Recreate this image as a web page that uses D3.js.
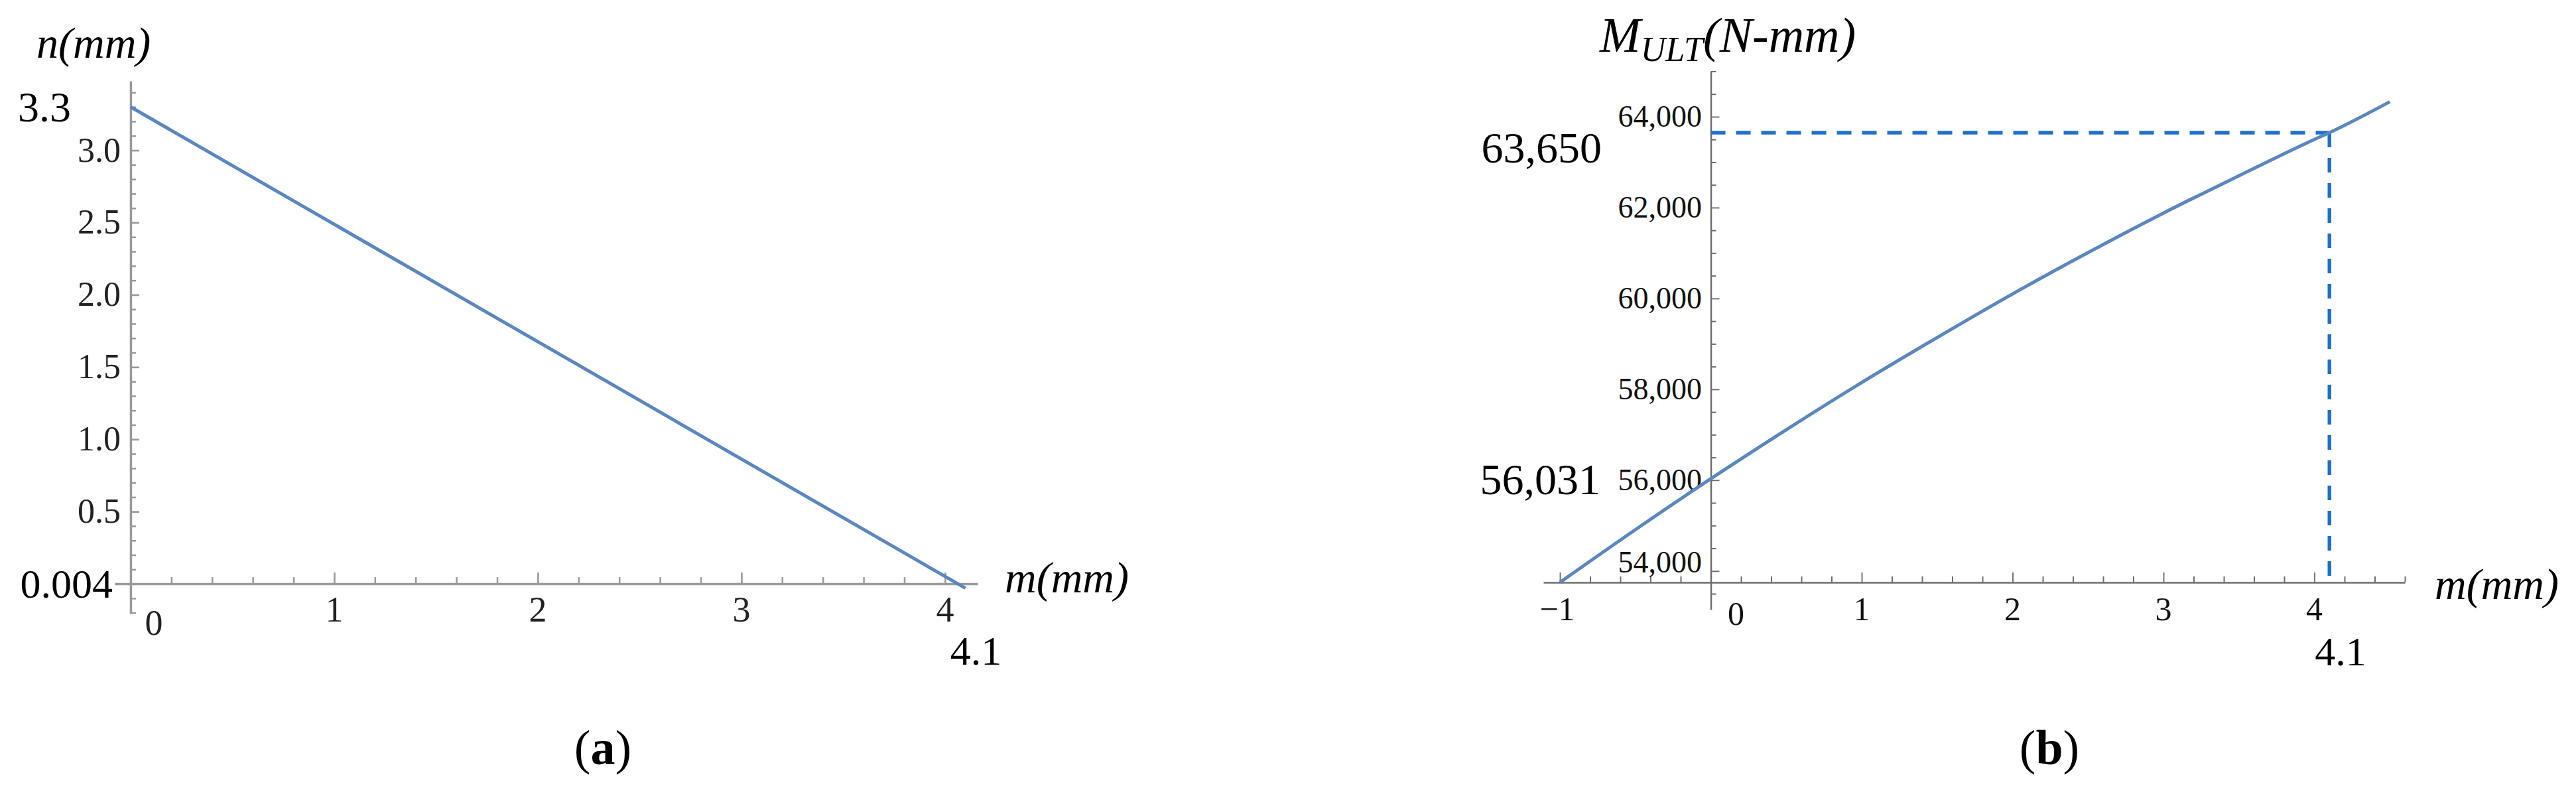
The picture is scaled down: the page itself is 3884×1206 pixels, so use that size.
<!DOCTYPE html>
<html>
<head>
<meta charset="utf-8">
<script src="https://cdn.jsdelivr.net/npm/d3@7"></script>
<style>
  html, body { margin: 0; padding: 0; background: #fff; }
  svg text { font-family: "Liberation Serif", "Times New Roman", serif; }
</style>
</head>
<body>
<svg id="chart" width="3884" height="1206"></svg>
<script>
// ---------- Data: panel (a) ----------
const aM = [0, 4.1];            // m (mm)
const aN = [3.3, -0.03];        // n (mm)
const aXTickLabels = [0, 1, 2, 3, 4];
const aYTickLabels = [0.5, 1.0, 1.5, 2.0, 2.5, 3.0];
const aAnnot = { top: "3.3", bottom: "0.004", xMark: "4.1" };

// ---------- Data: panel (b) ----------
const bM = [-1, -0.5, 0, 0.5, 1, 1.5, 2, 2.5, 3, 3.5, 4, 4.1, 4.5];
const bMult = [53750, 54910, 56031, 57110, 58150, 59140, 60100, 61010, 61880, 62700, 63500, 63650, 64330];
const bXTickLabels = [-1, 0, 1, 2, 3, 4];
const bYTickLabels = [54000, 56000, 58000, 60000, 62000, 64000];
const bMark = { m: 4.1, M: 63650 };
const bAnnot = { low: "56,031", high: "63,650", xMark: "4.1" };

const svg = d3.select("#chart");
svg.append("rect").attr("width", 3884).attr("height", 1206).attr("fill", "#fff");

// =============== Panel (a) ===============
const xA = d3.scaleLinear().domain([-0.078, 4.16]).range([173, 1474]);
const yA = d3.scaleLinear().domain([-0.206, 3.48]).range([925, 122]);
const gA = svg.append("g");
const axisColA = "#9a9a9a";

const aXMinor = d3.range(0.2, 4.11, 0.2).filter(v => Math.abs(v - Math.round(v)) > 1e-6);
const aYMinor = d3.range(-0.2, 3.45, 0.1).filter(v => Math.abs(v * 2 - Math.round(v * 2)) > 1e-6);

function styleAxis(g, col, w) {
  g.select(".domain").attr("stroke", col).attr("stroke-width", w);
  g.selectAll(".tick line").attr("stroke", col).attr("stroke-width", w * 0.75);
}

// x axis (ticks upward)
const gAx = gA.append("g").attr("transform", `translate(0,${yA(0)})`)
  .call(d3.axisTop(xA).tickValues([1, 2, 3, 4]).tickSize(17).tickSizeOuter(0).tickFormat(""));
styleAxis(gAx, axisColA, 3.5);
const gAxm = gA.append("g").attr("transform", `translate(0,${yA(0)})`)
  .call(d3.axisTop(xA).tickValues(aXMinor).tickSize(10).tickSizeOuter(0).tickFormat(""));
gAxm.select(".domain").remove();
gAxm.selectAll(".tick line").attr("stroke", axisColA).attr("stroke-width", 2.5);

// y axis (ticks rightward)
const gAy = gA.append("g").attr("transform", `translate(${xA(0)},0)`)
  .call(d3.axisRight(yA).tickValues(aYTickLabels).tickSize(13).tickSizeOuter(0).tickFormat(""));
styleAxis(gAy, axisColA, 3.5);
const gAym = gA.append("g").attr("transform", `translate(${xA(0)},0)`)
  .call(d3.axisRight(yA).tickValues(aYMinor).tickSize(8).tickSizeOuter(0).tickFormat(""));
gAym.select(".domain").remove();
gAym.selectAll(".tick line").attr("stroke", axisColA).attr("stroke-width", 2.5);

// tick labels
gA.selectAll("text.ayl").data(aYTickLabels).enter().append("text")
  .attr("x", 182).attr("y", d => yA(d) + 17)
  .attr("text-anchor", "end").attr("font-size", 52).attr("fill", "#222")
  .text(d => d.toFixed(1));
gA.selectAll("text.axl").data(aXTickLabels).enter().append("text")
  .attr("x", d => d === 0 ? xA(d) + 35 : xA(d))
  .attr("y", d => d === 0 ? 957 : 937)
  .attr("text-anchor", "middle").attr("font-size", 54).attr("fill", "#222")
  .text(d => d);

// line
const lineA = d3.line().x((d, i) => xA(aM[i])).y((d, i) => yA(aN[i]));
gA.append("path").attr("d", lineA(aM)).attr("fill", "none")
  .attr("stroke", "#5b87c0").attr("stroke-width", 5);

// annotations
gA.append("text").attr("x", 27).attr("y", yA(3.3) + 22).attr("font-size", 64).text(aAnnot.top);
gA.append("text").attr("x", 170).attr("y", yA(0) + 21).attr("text-anchor", "end").attr("font-size", 62).text(aAnnot.bottom);
gA.append("text").attr("x", xA(4.1) + 16).attr("y", 1002).attr("text-anchor", "middle").attr("font-size", 62).text(aAnnot.xMark);
gA.append("text").attr("x", 55).attr("y", 87).attr("font-size", 66).attr("font-style", "italic").text("n(mm)");
gA.append("text").attr("x", 1515).attr("y", 893).attr("font-size", 66).attr("font-style", "italic").text("m(mm)");
const capA = gA.append("text").attr("x", 909).attr("y", 1152).attr("text-anchor", "middle").attr("font-size", 74);
capA.append("tspan").text("(");
capA.append("tspan").attr("font-weight", "bold").text("a");
capA.append("tspan").text(")");

// =============== Panel (b) ===============
const xB = d3.scaleLinear().domain([-1.11, 4.6]).range([2327, 3626]);
const yB = d3.scaleLinear().domain([53150, 65000]).range([919, 107.5]);
const gB = svg.append("g");
const axisColB = "#6e6e6e";
const bAxisY = yB(53750);

const bXMinor = d3.range(-1, 4.61, 0.2).filter(v => Math.abs(v - Math.round(v)) > 1e-6);
const bYMinor = d3.range(53500, 65001, 500).filter(v => v % 2000 !== 0);

const gBx = gB.append("g").attr("transform", `translate(0,${bAxisY})`)
  .call(d3.axisTop(xB).tickValues([-1, 1, 2, 3, 4]).tickSize(15).tickSizeOuter(0).tickFormat(""));
styleAxis(gBx, axisColB, 2.5);
const gBxm = gB.append("g").attr("transform", `translate(0,${bAxisY})`)
  .call(d3.axisTop(xB).tickValues(bXMinor).tickSize(9).tickSizeOuter(0).tickFormat(""));
gBxm.select(".domain").remove();
gBxm.selectAll(".tick line").attr("stroke", axisColB).attr("stroke-width", 2);

const gBy = gB.append("g").attr("transform", `translate(${xB(0)},0)`)
  .call(d3.axisRight(yB).tickValues(bYTickLabels).tickSize(13).tickSizeOuter(0).tickFormat(""));
styleAxis(gBy, axisColB, 2.5);
const gBym = gB.append("g").attr("transform", `translate(${xB(0)},0)`)
  .call(d3.axisRight(yB).tickValues(bYMinor).tickSize(8).tickSizeOuter(0).tickFormat(""));
gBym.select(".domain").remove();
gBym.selectAll(".tick line").attr("stroke", axisColB).attr("stroke-width", 2);

const fmt = d3.format(",");
gB.selectAll("text.byl").data(bYTickLabels).enter().append("text")
  .attr("x", 2566).attr("y", d => yB(d) + (d === 54000 ? 2 : 15))
  .attr("text-anchor", "end").attr("font-size", 46).attr("fill", "#111")
  .text(d => fmt(d));
gB.selectAll("text.bxl").data(bXTickLabels).enter().append("text")
  .attr("x", d => d === 0 ? xB(d) + 38 : xB(d) - (d < 0 ? 4 : 0))
  .attr("y", d => d === 0 ? 942 : 935)
  .attr("text-anchor", "middle").attr("font-size", 50).attr("fill", "#111")
  .text(d => d < 0 ? "\u2212" + Math.abs(d) : d);

// dashed guide lines
gB.append("line").attr("x1", xB(0)).attr("x2", xB(bMark.m))
  .attr("y1", yB(bMark.M)).attr("y2", yB(bMark.M))
  .attr("stroke", "#1f70cc").attr("stroke-width", 5.5).attr("stroke-dasharray", "22 16");
gB.append("line").attr("x1", xB(bMark.m)).attr("x2", xB(bMark.m))
  .attr("y1", yB(bMark.M)).attr("y2", bAxisY - 8)
  .attr("stroke", "#1f70cc").attr("stroke-width", 5.5).attr("stroke-dasharray", "22 16");

// curve
const lineB = d3.line().x((d, i) => xB(bM[i])).y((d, i) => yB(bMult[i])).curve(d3.curveMonotoneX);
gB.append("path").attr("d", lineB(bM)).attr("fill", "none")
  .attr("stroke", "#5b87c0").attr("stroke-width", 5);

// annotations
gB.append("text").attr("x", 2415).attr("y", 245).attr("text-anchor", "end").attr("font-size", 66).text(bAnnot.high);
gB.append("text").attr("x", 2413).attr("y", 745).attr("text-anchor", "end").attr("font-size", 66).text(bAnnot.low);
gB.append("text").attr("x", 3529).attr("y", 1003).attr("text-anchor", "middle").attr("font-size", 62).text(bAnnot.xMark);
gB.append("text").attr("x", 3671).attr("y", 903).attr("font-size", 66).attr("font-style", "italic").text("m(mm)");
const yl = gB.append("text").attr("x", 2412).attr("y", 78).attr("font-size", 74).attr("font-style", "italic");
yl.append("tspan").text("M");
yl.append("tspan").attr("font-size", 52).attr("dy", 14).text("ULT");
yl.append("tspan").attr("dy", -14).text("(N-mm)");
const capB = gB.append("text").attr("x", 3090).attr("y", 1152).attr("text-anchor", "middle").attr("font-size", 74);
capB.append("tspan").text("(");
capB.append("tspan").attr("font-weight", "bold").text("b");
capB.append("tspan").text(")");
</script>
</body>
</html>
